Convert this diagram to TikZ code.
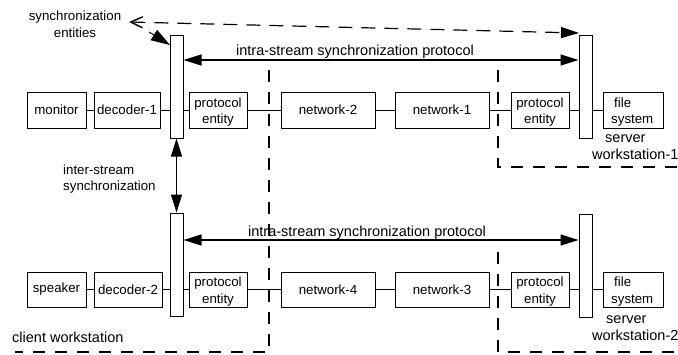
\documentclass[tikz,border=0pt]{standalone}
\usepackage{fontspec}
\setmainfont{Liberation Sans}
\usetikzlibrary{arrows.meta}
\begin{document}
\begin{tikzpicture}[x=1pt,y=-1pt,
  every node/.style={font=\fontsize{13.3}{16.5}\selectfont},
  big/.style={font=\fontsize{14.5}{17.5}\selectfont},
  box/.style={draw,line width=1pt,inner sep=0pt,minimum height=36pt},
  bar/.style={draw,line width=1pt,inner sep=0pt,minimum width=13pt,minimum height=103pt},
  link/.style={line width=1pt},
  syncarrow/.style={line width=1.1pt,{Triangle[length=18pt,width=11pt]}-{Triangle[length=18pt,width=11pt]}},
  zone/.style={line width=1.1pt,dash pattern=on 12pt off 10pt},
  label/.style={inner sep=0pt}]
\useasboundingbox (0,0) rectangle (678,354);

% ---- upper stream: monitor side ----
\node[box,minimum width=59pt] (mon) at (56.5,110) {monitor};
\node[box,minimum width=66pt] (dec1) at (127,110) {decoder-1};
\node[bar] (b1) at (176.5,86.5) {};
\node[box,minimum width=58pt] (pe1) at (218,110) {};
\node[label,align=center] at (218,112) {protocol\\entity};
\node[box,minimum width=94pt] (n2) at (328,110) {network-2};
\node[box,minimum width=94pt] (n1) at (442,110) {network-1};
\node[box,minimum width=58pt] (pe2) at (540,110) {};
\node[label,align=center] at (540,112) {protocol\\entity};
\node[bar] (b2) at (585.5,86.5) {};
\node[box,minimum width=60pt] (fs1) at (633,110) {};
\node[label,align=left,anchor=west] at (611,112) {\hspace*{3pt}file\\system};

\draw[link] (mon) -- (dec1);
\draw[link] (dec1) -- (b1.west |- dec1);
\draw[link] (b1.east |- pe1) -- (pe1);
\draw[link] (pe1) -- (n2);
\draw[link] (n2) -- (n1);
\draw[link] (n1) -- (pe2);
\draw[link] (pe2) -- (b2.west |- pe2);
\draw[link] (b2.east |- fs1) -- (fs1);

% ---- lower stream: speaker side ----
\node[box,minimum width=59pt,minimum height=35pt] (spk) at (56.5,289.5) {speaker};
\node[box,minimum width=68pt,minimum height=35pt] (dec2) at (128,289.5) {decoder-2};
\node[bar] (b3) at (176.5,264.5) {};
\node[box,minimum width=58pt,minimum height=35pt] (pe3) at (218,289.5) {};
\node[label,align=center] at (218,291.5) {protocol\\entity};
\node[box,minimum width=94pt,minimum height=35pt] (n4) at (328,289.5) {network-4};
\node[box,minimum width=94pt,minimum height=35pt] (n3) at (442,289.5) {network-3};
\node[box,minimum width=58pt,minimum height=35pt] (pe4) at (540,289.5) {};
\node[label,align=center] at (540,291.5) {protocol\\entity};
\node[bar] (b4) at (585.5,265.5) {};
\node[box,minimum width=60pt,minimum height=35pt] (fs2) at (633,289.5) {};
\node[label,align=left,anchor=west] at (611,291.5) {\hspace*{3pt}file\\system};

\draw[link] (spk) -- (dec2);
\draw[link] (dec2) -- (b3.west |- dec2);
\draw[link] (b3.east |- pe3) -- (pe3);
\draw[link] (pe3) -- (n4);
\draw[link] (n4) -- (n3);
\draw[link] (n3) -- (pe4);
\draw[link] (pe4) -- (b4.west |- pe4);
\draw[link] (b4.east |- fs2) -- (fs2);

% ---- synchronization arrows ----
\draw[syncarrow] (b1.east |- 0,60) -- (b2.west |- 0,60);
\node[label,big,anchor=base] (intra1) at (355,55) {intra-stream synchronization protocol};
\draw[syncarrow] (b3.east |- 0,240) -- (b4.west |- 0,240);
\node[label,big,anchor=base] (intra2) at (367,236) {intra-stream synchronization protocol};
\draw[syncarrow] (b1.south) -- (b3.north);
\node[label,align=left,anchor=west] (inter) at (63,179) {inter-stream\\synchronization};

% ---- synchronization entities label and pointer ----
\node[label,align=center] (sent) at (75,24) {synchronization\\entities};
\coordinate (dashL) at (129,22);
\coordinate (dashR) at (579,33);
\draw[line width=1.2pt,dash pattern=on 14pt off 9pt,
  {Straight Barb[length=12pt,width=11pt,line width=1.4pt]}-{Triangle[length=18pt,width=11pt]}] (dashL) -- (dashR);
\coordinate (ptr) at (149,32);
\draw[line width=1pt,-{Triangle[length=19pt,width=12pt]}] (ptr) -- (170,45);

% ---- workstation boundaries ----
\draw[zone] (269,70) -- (269,352) -- (15,352);
\node[label,big,anchor=west] at (12,337) {client workstation};
\draw[zone] (498,70) -- (498,167) -- (680,167);
\node[label,big,align=left,anchor=north west] at (592,134) {\hspace*{13pt}server\\workstation-1};
\draw[zone] (498,252) -- (498,352) -- (680,352);
\node[label,big,align=left,anchor=north west] at (592,315) {\hspace*{14pt}server\\workstation-2};
\end{tikzpicture}
\end{document}
